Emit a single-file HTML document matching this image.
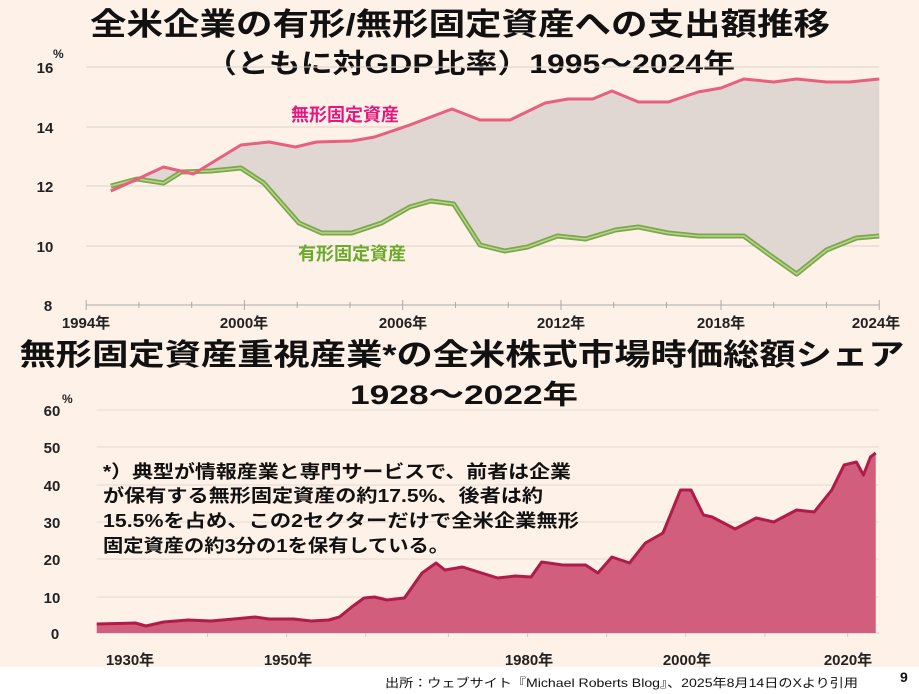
<!DOCTYPE html>
<html><head><meta charset="utf-8"><style>
body{margin:0;width:919px;height:694px;overflow:hidden;background:#fff;}
svg{display:block;font-family:"Liberation Sans","Noto Sans CJK JP",sans-serif;}
</style></head><body>
<svg width="919" height="694" viewBox="0 0 919 694">
<rect x="0" y="0" width="919" height="667" fill="#fdf1e8"/>
<text x="460" y="35" text-anchor="middle" font-size="31" font-weight="bold" fill="#111" textLength="740" lengthAdjust="spacingAndGlyphs">全米企業の有形/無形固定資産への支出額推移</text>
<text x="470" y="73" text-anchor="middle" font-size="27" font-weight="bold" fill="#111" textLength="530" lengthAdjust="spacingAndGlyphs">（ともに対GDP比率）1995～2024年</text>

<g transform="scale(1.7585 1)">
<g stroke="#d9d2cc" stroke-width="1" vector-effect="non-scaling-stroke">
<line x1="49" y1="67" x2="500" y2="67" vector-effect="non-scaling-stroke"/><line x1="49" y1="127" x2="500" y2="127" vector-effect="non-scaling-stroke"/>
<line x1="49" y1="186" x2="500" y2="186" vector-effect="non-scaling-stroke"/><line x1="49" y1="246" x2="500" y2="246" vector-effect="non-scaling-stroke"/>
</g>
<line x1="49" y1="305" x2="500" y2="305" stroke="#aaa" stroke-width="1" vector-effect="non-scaling-stroke"/>
<g stroke="#aaa" stroke-width="1">
<line x1="49" y1="300" x2="49" y2="310" vector-effect="non-scaling-stroke"/><line x1="79" y1="302" x2="79" y2="308" vector-effect="non-scaling-stroke"/><line x1="109" y1="302" x2="109" y2="308" vector-effect="non-scaling-stroke"/><line x1="139" y1="300" x2="139" y2="310" vector-effect="non-scaling-stroke"/><line x1="169" y1="302" x2="169" y2="308" vector-effect="non-scaling-stroke"/><line x1="199" y1="302" x2="199" y2="308" vector-effect="non-scaling-stroke"/><line x1="229" y1="300" x2="229" y2="310" vector-effect="non-scaling-stroke"/><line x1="259" y1="302" x2="259" y2="308" vector-effect="non-scaling-stroke"/><line x1="289" y1="302" x2="289" y2="308" vector-effect="non-scaling-stroke"/><line x1="319" y1="300" x2="319" y2="310" vector-effect="non-scaling-stroke"/><line x1="349" y1="302" x2="349" y2="308" vector-effect="non-scaling-stroke"/><line x1="379" y1="302" x2="379" y2="308" vector-effect="non-scaling-stroke"/><line x1="410" y1="300" x2="410" y2="310" vector-effect="non-scaling-stroke"/><line x1="440" y1="302" x2="440" y2="308" vector-effect="non-scaling-stroke"/><line x1="470" y1="302" x2="470" y2="308" vector-effect="non-scaling-stroke"/><line x1="500" y1="300" x2="500" y2="310" vector-effect="non-scaling-stroke"/>
</g>
<path d="M63,191 L77,180 L93,167 L110,174 L137,145 L153,142 L168,147 L180,142 L200,141 L213,137 L233,125 L257,109 L273,120 L290,120 L310,103 L323,99 L337,99 L348,91 L363,102 L380,102 L397,92 L410,88 L423,79 L440,82 L453,79 L470,82 L483,82 L500,79 L500,236 L487,238 L470,250 L453,274 L437,254 L423,236 L397,236 L380,233 L363,227 L350,230 L333,239 L317,236 L300,247 L287,251 L273,245 L258,204 L245,201 L233,207 L217,223 L200,233 L183,233 L170,223 L150,183 L137,168 L120,171 L103,172 L93,183 L78,179 L63,186 Z" fill="#e0d7d3"/>
<path d="M63,186 L78,179 L93,183 L103,172 L120,171 L137,168 L150,183 L170,223 L183,233 L200,233 L217,223 L233,207 L245,201 L258,204 L273,245 L287,251 L300,247 L317,236 L333,239 L350,230 L363,227 L380,233 L397,236 L423,236 L437,254 L453,274 L470,250 L487,238 L500,236" fill="none" stroke="#7aa84a" stroke-width="5" stroke-linejoin="round" vector-effect="non-scaling-stroke"/>
<path d="M63,186 L78,179 L93,183 L103,172 L120,171 L137,168 L150,183 L170,223 L183,233 L200,233 L217,223 L233,207 L245,201 L258,204 L273,245 L287,251 L300,247 L317,236 L333,239 L350,230 L363,227 L380,233 L397,236 L423,236 L437,254 L453,274 L470,250 L487,238 L500,236" fill="none" stroke="#b8d48c" stroke-width="1.5" stroke-linejoin="round" vector-effect="non-scaling-stroke"/>
<path d="M63,191 L77,180 L93,167 L110,174 L137,145 L153,142 L168,147 L180,142 L200,141 L213,137 L233,125 L257,109 L273,120 L290,120 L310,103 L323,99 L337,99 L348,91 L363,102 L380,102 L397,92 L410,88 L423,79 L440,82 L453,79 L470,82 L483,82 L500,79" fill="none" stroke="#e8607e" stroke-width="3" stroke-linejoin="round" vector-effect="non-scaling-stroke"/>
</g>
<g font-size="15" font-weight="bold" fill="#222" text-anchor="middle">
<text x="45" y="73">16</text><text x="45" y="133">14</text><text x="45" y="192">12</text><text x="45" y="252">10</text><text x="48" y="311">8</text>
</g>
<text x="53" y="58" font-size="12" font-weight="bold" fill="#222">%</text>
<g font-size="15" font-weight="bold" fill="#222" text-anchor="middle">
<text x="86" y="328">1994年</text><text x="244" y="328">2000年</text><text x="403" y="328">2006年</text><text x="561" y="328">2012年</text><text x="721" y="328">2018年</text><text x="876" y="328">2024年</text>
</g>
<text x="345" y="121" text-anchor="middle" font-size="18" font-weight="bold" fill="#e6177e">無形固定資産</text>
<text x="352" y="260" text-anchor="middle" font-size="18" font-weight="bold" fill="#6aaa2a">有形固定資産</text>

<text x="462" y="365" text-anchor="middle" font-size="30" font-weight="bold" fill="#111" textLength="885" lengthAdjust="spacingAndGlyphs">無形固定資産重視産業*の全米株式市場時価総額シェア</text>
<text x="464" y="404" text-anchor="middle" font-size="27" font-weight="bold" fill="#111" textLength="228" lengthAdjust="spacingAndGlyphs">1928～2022年</text>

<g transform="scale(1.7585 1)">
<g stroke="#e3dad2" stroke-width="1">
<line x1="55" y1="410" x2="500" y2="410" vector-effect="non-scaling-stroke"/><line x1="55" y1="447" x2="500" y2="447" vector-effect="non-scaling-stroke"/><line x1="55" y1="485" x2="500" y2="485" vector-effect="non-scaling-stroke"/><line x1="55" y1="522" x2="500" y2="522" vector-effect="non-scaling-stroke"/><line x1="55" y1="559" x2="500" y2="559" vector-effect="non-scaling-stroke"/><line x1="55" y1="597" x2="500" y2="597" vector-effect="non-scaling-stroke"/>
</g>
<line x1="55" y1="633" x2="500" y2="633" stroke="#ccc" stroke-width="1" vector-effect="non-scaling-stroke"/>
<g stroke="#ccc"><line x1="118" y1="630" x2="118" y2="637" vector-effect="non-scaling-stroke"/><line x1="163" y1="630" x2="163" y2="637" vector-effect="non-scaling-stroke"/><line x1="208" y1="630" x2="208" y2="637" vector-effect="non-scaling-stroke"/><line x1="255" y1="630" x2="255" y2="637" vector-effect="non-scaling-stroke"/><line x1="300" y1="630" x2="300" y2="637" vector-effect="non-scaling-stroke"/><line x1="345" y1="630" x2="345" y2="637" vector-effect="non-scaling-stroke"/><line x1="390" y1="630" x2="390" y2="637" vector-effect="non-scaling-stroke"/><line x1="435" y1="630" x2="435" y2="637" vector-effect="non-scaling-stroke"/><line x1="482" y1="630" x2="482" y2="637" vector-effect="non-scaling-stroke"/></g>
<path d="M55,624 L77,623 L83,626 L93,622 L107,620 L120,621 L133,619 L145,617 L153,619 L167,619 L177,621 L187,620 L193,617 L200,607 L207,598 L213,597 L220,600 L230,598 L240,573 L248,563 L253,570 L263,567 L283,578 L293,576 L302,577 L308,562 L320,565 L333,565 L340,573 L348,557 L358,563 L367,543 L377,533 L387,490 L393,490 L400,515 L405,517 L418,529 L430,518 L440,522 L453,510 L463,512 L473,490 L480,465 L487,462 L491,475 L495,457 L498,453 L498,633 L55,633 Z" fill="#d15e7c"/>
<path d="M55,624 L77,623 L83,626 L93,622 L107,620 L120,621 L133,619 L145,617 L153,619 L167,619 L177,621 L187,620 L193,617 L200,607 L207,598 L213,597 L220,600 L230,598 L240,573 L248,563 L253,570 L263,567 L283,578 L293,576 L302,577 L308,562 L320,565 L333,565 L340,573 L348,557 L358,563 L367,543 L377,533 L387,490 L393,490 L400,515 L405,517 L418,529 L430,518 L440,522 L453,510 L463,512 L473,490 L480,465 L487,462 L491,475 L495,457 L498,453" fill="none" stroke="#b01c48" stroke-width="3" stroke-linejoin="round" vector-effect="non-scaling-stroke"/>
</g>
<g font-size="15" font-weight="bold" fill="#222" text-anchor="middle">
<text x="52" y="416">60</text><text x="52" y="453">50</text><text x="52" y="491">40</text><text x="52" y="528">30</text><text x="52" y="565">20</text><text x="52" y="603">10</text><text x="55" y="639">0</text>
</g>
<text x="62" y="403" font-size="12" font-weight="bold" fill="#222">%</text>
<g font-size="15" font-weight="bold" fill="#222" text-anchor="middle">
<text x="130" y="665">1930年</text><text x="288" y="665">1950年</text><text x="529" y="665">1980年</text><text x="687" y="665">2000年</text><text x="848" y="665">2020年</text>
</g>
<g font-size="18" font-weight="bold" fill="#111">
<text x="103" y="478" textLength="468" lengthAdjust="spacingAndGlyphs">*）典型が情報産業と専門サービスで、前者は企業</text>
<text x="103" y="502" textLength="440" lengthAdjust="spacingAndGlyphs">が保有する無形固定資産の約17.5%、後者は約</text>
<text x="103" y="527" textLength="476" lengthAdjust="spacingAndGlyphs">15.5%を占め、この2セクターだけで全米企業無形</text>
<text x="103" y="552" textLength="346" lengthAdjust="spacingAndGlyphs">固定資産の約3分の1を保有している。</text>
</g>
<text x="385" y="687" font-size="12" fill="#111" textLength="473" lengthAdjust="spacingAndGlyphs">出所：ウェブサイト『Michael Roberts Blog』、2025年8月14日のXより引用</text>
<text x="900" y="682" font-size="14" font-weight="bold" fill="#111">9</text>
</svg>
</body></html>
